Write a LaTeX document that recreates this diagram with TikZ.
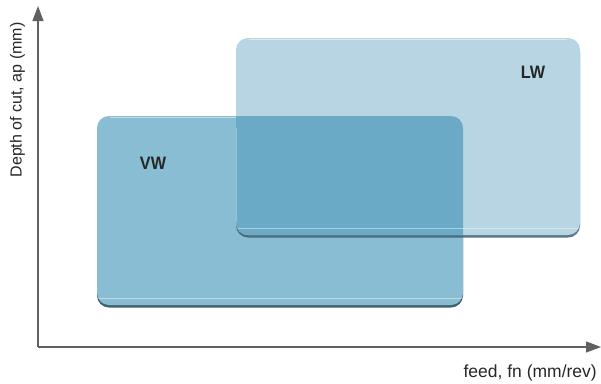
\documentclass[tikz,border=0pt]{standalone}
\usepackage{fontspec}
\usepackage{graphicx}
\setmainfont{Liberation Sans}
\usetikzlibrary{arrows.meta}
\definecolor{vwc}{HTML}{88BDD3}
\definecolor{lwc}{HTML}{B8D5E3}
\definecolor{ovc}{HTML}{6BAAC7}
\definecolor{axc}{HTML}{5F6062}
\definecolor{shc}{HTML}{3E5F70}
\tikzset{
  box/.style={rounded corners=12pt, draw=none},
  lbl/.style={font=\fontsize{18}{20}\selectfont\bfseries, text=black!85},
  axlbl/.style={text=black!85, inner sep=0pt},
  axis/.style={draw=axc, line width=1.1pt, -{Triangle[length=15pt,width=11pt]}},
}
\def\vwpath{(97,116) rectangle (463,305)}
\def\lwpath{(236,38) rectangle (580,235)}
\begin{document}
\begin{tikzpicture}[x=1pt,y=-1pt]
\useasboundingbox (0,0) rectangle (601,383);
% VW shadow and body
\fill[shc, rounded corners=12pt] (97,118.5) rectangle (463,307.5);
\fill[vwc, box] \vwpath;
\draw[white, opacity=0.45, line width=0.6pt] (99,298) -- (461,298);
\draw[white, opacity=0.5, line width=0.8pt] (110,117) -- (450,117);
% LW shadow and body
\fill[shc, opacity=0.85, rounded corners=12pt] (236,40.5) rectangle (580,237.5);
\fill[lwc, box] \lwpath;
% overlap = intersection of both rounded boxes
\begin{scope}
  \clip[rounded corners=12pt] \vwpath;
  \fill[ovc, box] \lwpath;
  \draw[white, opacity=0.3, line width=0.6pt] (236.4,128) -- (236.4,222);
\end{scope}
\draw[white, opacity=0.45, line width=0.6pt] (238,228) -- (578,228);
\draw[white, opacity=0.5, line width=0.8pt] (249,39) -- (567,39);
% labels
\node[lbl] (vw) at (153,163.5) {\scalebox{0.9}[1]{VW}};
\node[lbl] (lw) at (533,72.5) {\scalebox{0.9}[1]{LW}};
% axes
\coordinate (o) at (38,347);
\coordinate (ytip) at (38,6);
\coordinate (xtip) at (601,347);
\draw[axis] (o) -- (ytip);
\draw[axis] (o) -- (xtip);
\node[axlbl, rotate=90, font=\fontsize{16}{18}\selectfont] (ylab) at (17.5,100) {Depth of cut, ap (mm)};
\node[axlbl, anchor=east, font=\fontsize{17.5}{20}\selectfont] (xlab) at (597,373) {feed, fn (mm/rev)};
\end{tikzpicture}
\end{document}
